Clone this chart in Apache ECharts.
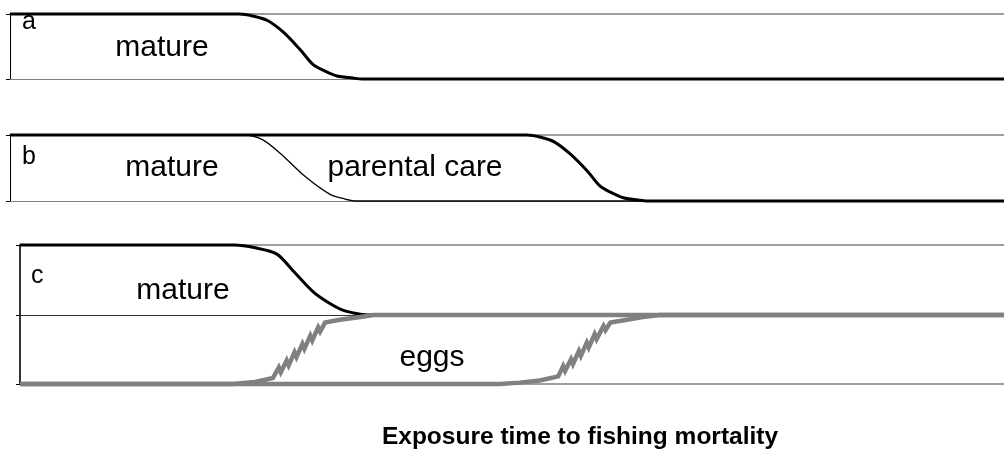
<!DOCTYPE html>
<html><head><meta charset="utf-8">
<script src="https://cdn.jsdelivr.net/npm/echarts@6/dist/echarts.min.js"></script>
<style>html,body{margin:0;padding:0;background:#fff}#c{width:1004px;height:460px}</style>
</head><body><div id="c"></div>
<script>
// ---- data (time axis 0..100, proportion 0..1) ----
const aTime   = [0, 23.1, 24.4, 25.9, 27.5, 29.2, 30.5, 31.7, 32.9, 34.5, 35.4, 100];
const aMature = [1, 1, 0.97, 0.9, 0.72, 0.45, 0.22, 0.12, 0.045, 0.015, 0, 0];

const bMatureTime = [0, 23.6, 25.4, 27.2, 29.7, 32.2, 33.7, 34.9, 100];
const bMature     = [1, 1, 0.93, 0.72, 0.37, 0.1, 0.03, 0, 0];
const bCareTime   = [0, 52.0, 53.3, 54.7, 56.3, 58.1, 59.4, 60.6, 61.8, 63.2, 64.0, 100];
const bCare       = [1, 1, 0.97, 0.9, 0.72, 0.45, 0.22, 0.12, 0.045, 0.015, 0, 0];

const cMatureTime = [0, 21.8, 23.9, 26.1, 27.7, 29.8, 31.2, 32.8, 34.6, 35.6, 100];
const cMature     = [1, 1, 0.96, 0.87, 0.64, 0.33, 0.19, 0.07, 0.01, 0, 0];

const eggs1Time = [0, 21.6, 23.9, 25.7, 26.3, 26.5, 27.1, 27.3, 27.9, 28.1, 28.7, 28.9, 29.5, 29.7, 30.3, 30.5, 31.0, 32.5, 34.6, 35.9, 100];
const eggs1     = [0, 0, 0.03, 0.087, 0.24, 0.17, 0.34, 0.27, 0.46, 0.39, 0.58, 0.51, 0.70, 0.63, 0.82, 0.76, 0.89, 0.93, 0.97, 1, 1];
const eggs2Time = [0, 48.8, 50.8, 52.8, 54.7, 55.2, 55.4, 56.0, 56.2, 56.8, 57.0, 57.6, 57.8, 58.4, 58.6, 59.3, 59.5, 60.0, 61.7, 63.3, 65.0, 100];
const eggs2     = [0, 0, 0.02, 0.05, 0.11, 0.26, 0.19, 0.36, 0.29, 0.48, 0.41, 0.60, 0.53, 0.72, 0.65, 0.84, 0.78, 0.89, 0.93, 0.97, 1, 1];

const panelLabels = ['a', 'b', 'c'];
const stageLabels = ['mature', 'mature', 'parental care', 'mature', 'eggs'];
const xTitle = 'Exposure time to fishing mortality';

// ---- chart ----
const zip = (t, v) => t.map((x, i) => [x, v[i]]);
const FONT = '"Liberation Sans", Arial, sans-serif';
const GRAY = '#808080';

const grids = [
  { left: 10, top: 14, height: 65, right: 0 },
  { left: 10, top: 135, height: 66, right: 0 },
  { left: 20, top: 245, height: 70, right: 0 },
  { left: 20, top: 315, height: 69, right: 0 }
];
const bottomColors = [GRAY, GRAY, '#333333', GRAY];

const xAxes = [];
grids.forEach((g, i) => {
  xAxes.push({
    gridIndex: i, type: 'value', min: 0, max: 100, position: 'bottom',
    axisLine: { show: true, lineStyle: { color: bottomColors[i], width: i === 3 ? 1.5 : 1 } },
    axisTick: { show: false }, axisLabel: { show: false }, splitLine: { show: false }
  });
});
[0, 1, 2].forEach(i => {
  xAxes.push({
    gridIndex: i, type: 'value', min: 0, max: 100, position: 'top',
    axisLine: { show: true, lineStyle: { color: GRAY, width: 1.5 } },
    axisTick: { show: false }, axisLabel: { show: false }, splitLine: { show: false }
  });
});
const yAxes = grids.map((g, i) => ({
  gridIndex: i, type: 'value', min: 0, max: 1, interval: 1,
  axisLine: { show: true, lineStyle: { color: i >= 2 ? '#333' : '#000', width: i >= 2 ? 2 : 1 } },
  axisTick: { show: true, length: 4, lineStyle: { color: '#000' } },
  axisLabel: { show: false }, splitLine: { show: false }
}));

function line(data, xi, yi, color, width, z, smooth) {
  return {
    type: 'line', xAxisIndex: xi, yAxisIndex: yi, data: data,
    showSymbol: false, symbol: 'none', smooth: smooth || false, clip: false, z: z,
    lineStyle: { color: color, width: width, join: 'miter' }, animation: false
  };
}

const txt = (text, x, y, size, align, bold) => ({
  type: 'text', x: x, y: y, z: 100,
  style: { text: text, font: (bold ? 'bold ' : '') + size + 'px ' + FONT, fill: '#000',
           textAlign: align, textVerticalAlign: 'middle' }
});

const chart = echarts.init(document.getElementById('c'), null, { renderer: 'canvas' });
chart.setOption({
  animation: false,
  backgroundColor: '#fff',
  grid: grids,
  xAxis: xAxes,
  yAxis: yAxes,
  series: [
    line(zip(aTime, aMature), 0, 0, '#000', 3, 3, 0.3),
    line(zip(bMatureTime, bMature), 1, 1, '#000', 1.3, 3, 0.3),
    line(zip(bCareTime, bCare), 1, 1, '#000', 3, 4, 0.3),
    line(zip(cMatureTime, cMature), 2, 2, '#000', 3, 3, 0.3),
    line(zip(eggs1Time, eggs1), 3, 3, GRAY, 4.5, 5, false),
    line(zip(eggs2Time, eggs2), 3, 3, GRAY, 4.5, 5, false)
  ],
  graphic: [
    txt(panelLabels[0], 22, 22, 25, 'left'),
    txt(panelLabels[1], 22, 157, 25, 'left'),
    txt(panelLabels[2], 31, 276, 25, 'left'),
    txt(stageLabels[0], 162, 48, 30, 'center'),
    txt(stageLabels[1], 172, 168, 30, 'center'),
    txt(stageLabels[2], 415, 168, 30, 'center'),
    txt(stageLabels[3], 183, 291, 30, 'center'),
    txt(stageLabels[4], 432, 358, 30, 'center'),
    txt(xTitle, 580, 437, 24.5, 'center', true)
  ]
});
</script>
</body></html>
